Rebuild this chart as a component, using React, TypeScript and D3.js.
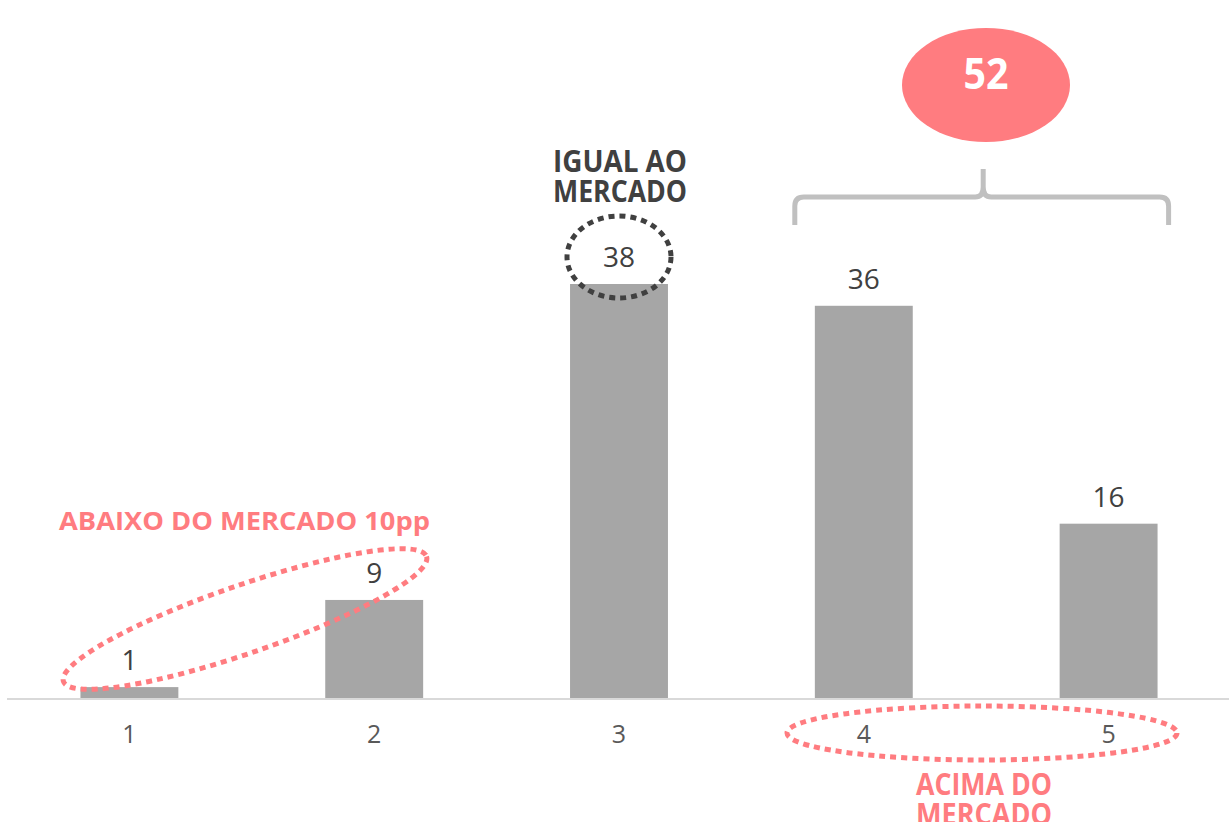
import React from "react";
import * as d3 from "d3";

const categories = ["1", "2", "3", "4", "5"];
const values = [1, 9, 38, 36, 16];
const groupTotal = "52";
const labelBelow = "ABAIXO DO MERCADO 10pp";
const labelEqual = ["IGUAL AO", "MERCADO"];
const labelAbove = ["ACIMA DO", "MERCADO"];

const W = 1229;
const H = 822;
const FONT = "'Open Sans', 'Noto Sans', sans-serif";
const RED = "#ff7c80";
const DARK = "#404040";

export default function App() {
  const x = d3.scaleBand<string>().domain(categories).range([7, 1231]).paddingInner(0.6).paddingOuter(0.3);
  const y = d3.scaleLinear().domain([0, 38]).range([698, 284]);
  const bw = x.bandwidth();
  const cx = (c: string) => (x(c) as number) + bw / 2;

  const bx = cx("4"), ex = cx("5");
  const braceL = bx - 69, braceR = ex + 60, braceMid = (bx + ex) / 2 - 3;
  const brace = `M${braceL},225 L${braceL},206 Q${braceL},197 ${braceL + 9},197 L${braceMid - 8},197 Q${braceMid},197 ${braceMid},187 L${braceMid},169 M${braceMid},187 Q${braceMid},197 ${braceMid + 8},197 L${braceR - 9},197 Q${braceR},197 ${braceR},206 L${braceR},225`;

  return (
    <svg width={W} height={H} style={{ position: "absolute", left: 0, top: 0 }} fontFamily={FONT}>
      <rect width={W} height={H} fill="#fff" />
      <line x1={7} x2={1229} y1={699} y2={699} stroke="#d9d9d9" strokeWidth={2} />
      {categories.map((c, i) => (
        <g key={c}>
          <rect x={x(c)} y={y(values[i])} width={bw} height={698 - y(values[i])} fill="#a6a6a6" />
          <text x={cx(c)} y={y(values[i]) - 17} textAnchor="middle" fontSize={28} fill={DARK}>{values[i]}</text>
          <text x={cx(c)} y={743} textAnchor="middle" fontSize={25} fill="#595959">{c}</text>
        </g>
      ))}
      {/* below market */}
      <text x={59} y={530} fontSize={25} fontWeight="bold" fill={RED} textLength={371} lengthAdjust="spacingAndGlyphs">{labelBelow}</text>
      <ellipse cx={245} cy={619} rx={192} ry={34} transform="rotate(-19 245 619)" fill="none" stroke={RED} strokeWidth={5} strokeDasharray="6 5" />
      {/* equal */}
      <text x={620} y={172} textAnchor="middle" fontSize={31} fontWeight="bold" fill={DARK} textLength={134} lengthAdjust="spacingAndGlyphs">{labelEqual[0]}</text>
      <text x={620} y={202} textAnchor="middle" fontSize={31} fontWeight="bold" fill={DARK} textLength={134} lengthAdjust="spacingAndGlyphs">{labelEqual[1]}</text>
      <ellipse cx={cx("3")} cy={257} rx={52} ry={41} fill="none" stroke={DARK} strokeWidth={5} strokeDasharray="6 5" />
      {/* above */}
      <ellipse cx={982} cy={733} rx={195} ry={27} fill="none" stroke={RED} strokeWidth={5} strokeDasharray="6 5" />
      <text x={984} y={795} textAnchor="middle" fontSize={31} fontWeight="bold" fill={RED} textLength={136} lengthAdjust="spacingAndGlyphs">{labelAbove[0]}</text>
      <text x={984} y={825} textAnchor="middle" fontSize={31} fontWeight="bold" fill={RED} textLength={136} lengthAdjust="spacingAndGlyphs">{labelAbove[1]}</text>
      <path d={brace} fill="none" stroke="#c0c0c0" strokeWidth={5} />
      <ellipse cx={986} cy={85} rx={84} ry={57} fill={RED} />
      <text x={986} y={89} textAnchor="middle" fontSize={43} fontWeight="bold" fill="#fff" textLength={45} lengthAdjust="spacingAndGlyphs">{groupTotal}</text>
    </svg>
  );
}
